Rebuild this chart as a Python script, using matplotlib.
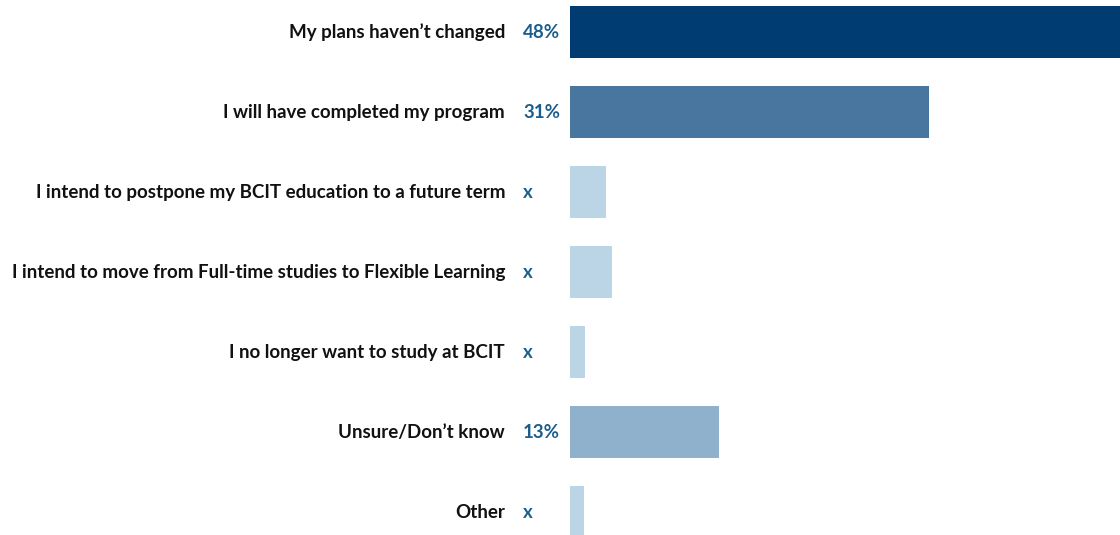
import matplotlib
matplotlib.use("Agg")
import matplotlib.pyplot as plt
from matplotlib.transforms import blended_transform_factory

labels = [
    "My plans haven\u2019t changed",
    "I will have completed my program",
    "I intend to postpone my BCIT education to a future term",
    "I intend to move from Full-time studies to Flexible Learning",
    "I no longer want to study at BCIT",
    "Unsure/Don\u2019t know",
    "Other",
]
values = [48, 31.3, 3.1, 3.7, 1.3, 13, 1.2]
value_text = ["48%", "31%", "x", "x", "x", "13%", "x"]
colors = ["#003B71", "#48769E", "#BBD4E6", "#BBD4E6", "#BBD4E6", "#90B1CB", "#BBD4E6"]

plt.rcParams["font.family"] = ["Lato", "DejaVu Sans"]

fig = plt.figure(figsize=(11.2, 5.35), dpi=100)
ax = fig.add_axes([570 / 1120, 0, 550 / 1120, 1])

ypos = list(range(len(labels)))
ax.barh(ypos, values, height=0.65, color=colors)
ax.set_xlim(0, 48)
ax.set_ylim(6 + 23 / 80, -0.4)
ax.axis("off")

tr = blended_transform_factory(fig.transFigure, ax.transData)
for y, lab, vt in zip(ypos, labels, value_text):
    ax.text(505 / 1120, y, lab, transform=tr, ha="right", va="center",
            fontsize=13.5, fontweight="bold", color="#111111")
    ax.text(523 / 1120, y, vt, transform=tr, ha="left", va="center",
            fontsize=13.5, fontweight="bold", color="#1B5E8C")

fig.savefig("out.png", dpi=100)
